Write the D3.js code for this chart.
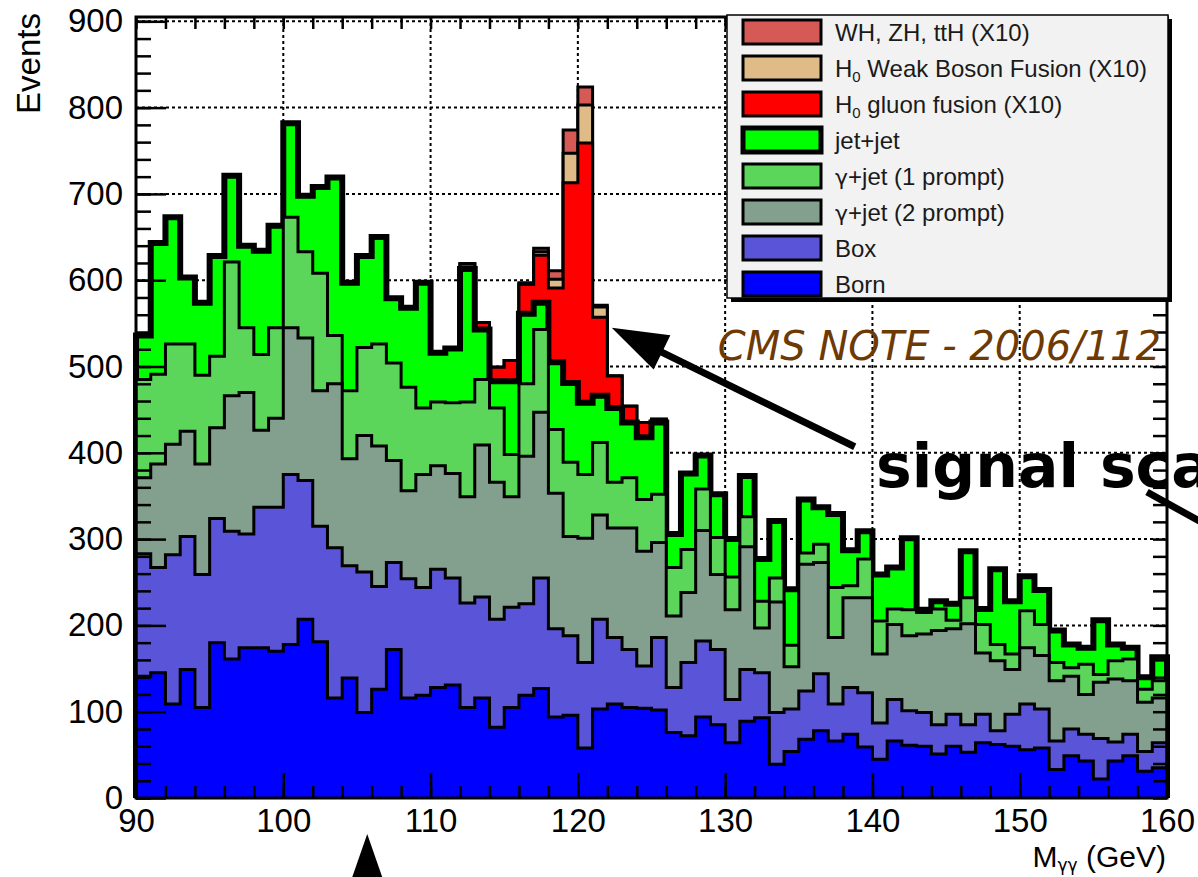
<!DOCTYPE html>
<html>
<head>
<meta charset="utf-8">
<script src="https://cdn.jsdelivr.net/npm/d3@7"></script>
<style>
  html, body { margin: 0; padding: 0; background: #fff; }
  svg { display: block; }
</style>
</head>
<body>
<svg id="chart" width="1198" height="877"></svg>
<script>
// M_gg histogram, 1 GeV bins from 90 to 160
const binLow = d3.range(90, 160, 1);

const born   = [141,145,109,149,105,180,161,174,174,170,178,207,181,116,139,99,126,172,
                116,119,128,131,105,116,82,105,119,127,94,96,58,103,109,105,104,102,
                76,72,94,85,64,89,93,39,54,68,78,66,74,59,45,66,61,
                60,51,60,53,64,62,60,56,58,33,49,43,22,43,49,31,35];
const box    = [142,122,173,154,154,144,148,132,163,167,197,161,134,174,130,163,119,101,
                138,125,137,124,121,117,125,116,106,128,102,92,99,104,77,67,49,84,
                52,85,88,87,50,60,52,60,49,56,66,43,54,63,42,48,40,
                39,34,37,32,33,16,37,53,45,33,31,31,47,22,25,23,29];
const gjet2  = [88,120,128,122,128,105,157,164,89,103,170,165,157,190,124,158,163,118,
                102,131,120,121,123,176,159,128,171,192,157,115,144,121,127,141,133,110,
                83,81,128,87,104,142,52,128,49,147,129,77,104,110,80,87,87,
                91,109,99,117,71,81,52,65,62,70,61,46,65,73,62,57,52];
const gjet1  = [114,104,116,101,103,83,155,75,88,105,128,100,136,56,79,102,118,113,
                120,77,74,82,110,76,86,49,84,96,74,86,74,84,53,58,60,56,
                56,50,48,43,38,35,31,28,25,13,21,58,14,45,38,18,30,
                25,25,10,30,33,19,18,43,36,21,10,35,9,21,25,15,20];
const jetjet = [51,152,147,77,84,116,100,95,120,118,109,65,100,183,125,106,124,75,
                92,145,57,63,154,58,31,85,81,31,78,92,83,54,86,64,72,83,
                39,88,39,50,44,47,49,66,65,62,43,85,41,32,54,48,83,
                3,9,19,54,18,87,61,40,40,37,27,19,63,19,13,14,27];
// signal, already scaled x10
const ggH    = [0,0,0,0,0,0,0,0,0,0,0,0,0,0,0,0,0,0,
                0,0,0,0,6,8,16,24,34,55,86,232,301,91,37,19,17,4,
                0,0,0,0,0,0,0,0,0,0,0,0,0,0,0,0,0,
                0,0,0,0,0,0,0,0,0,0,0,0,0,0,0,0,0];
const wbf    = [0,0,0,0,0,0,0,0,0,0,0,0,0,0,0,0,0,0,
                0,0,0,0,0,0,0,0,1,4,10,34,44,12,0,0,0,0,
                0,0,0,0,0,0,0,0,0,0,0,0,0,0,0,0,0,
                0,0,0,0,0,0,0,0,0,0,0,0,0,0,0,0,0];
const vh     = [0,0,0,0,0,0,0,0,0,0,0,0,0,0,0,0,0,0,
                0,0,0,0,0,0,0,0,1,4,10,27,21,2,0,0,0,0,
                0,0,0,0,0,0,0,0,0,0,0,0,0,0,0,0,0,
                0,0,0,0,0,0,0,0,0,0,0,0,0,0,0,0,0];

const xTicks = [90,100,110,120,130,140,150,160];
const yTicks = [0,100,200,300,400,500,600,700,800,900];

const layers = [
  {key: 'born',   label: ['Born'],                         color: '#0000ff', values: born},
  {key: 'box',    label: ['Box'],                          color: '#5a54d8', values: box},
  {key: 'gjet2',  label: ['γ', '+jet (2 prompt)'],         color: '#82a08d', values: gjet2},
  {key: 'gjet1',  label: ['γ', '+jet (1 prompt)'],         color: '#5bd65b', values: gjet1},
  {key: 'jetjet', label: ['jet+jet'],                      color: '#00ff00', values: jetjet},
  {key: 'ggH',    label: ['H', '0', ' gluon fusion (X10)'],      color: '#ff0000', values: ggH},
  {key: 'wbf',    label: ['H', '0', ' Weak Boson Fusion (X10)'], color: '#dfbb88', values: wbf},
  {key: 'vh',     label: ['WH, ZH, ttH (X10)'],            color: '#d55a56', values: vh}
];

const rows = binLow.map((m, i) => {
  const r = {m};
  layers.forEach(l => { r[l.key] = l.values[i]; });
  return r;
});
const series = d3.stack().keys(layers.map(l => l.key))(rows);

const svg = d3.select('#chart');
const pL = 136, pR = 1167, pT = 17, pB = 798;
const x = d3.scaleLinear().domain([90, 160]).range([pL, pR]);
const y = d3.scaleLinear().domain([0, 905]).range([pB, pT]);

// grid
const grid = svg.append('g').attr('stroke', '#000').attr('stroke-width', 2).attr('stroke-dasharray', '3,3');
xTicks.slice(1, -1).forEach(t => {
  grid.append('line').attr('x1', x(t)).attr('x2', x(t)).attr('y1', pT).attr('y2', pB);
});
yTicks.slice(1).forEach(t => {
  grid.append('line').attr('x1', pL).attr('x2', pR).attr('y1', y(t)).attr('y2', y(t));
});

// stacked histogram, drawn from the total down
const step = d3.line().x(d => x(d[0])).y(d => y(d[1])).curve(d3.curveStepAfter);
series.slice().reverse().forEach(s => {
  const layer = layers.find(l => l.key === s.key);
  const pts = [[90, 0]].concat(s.map((d, i) => [binLow[i], d[1]]));
  pts.push([160, s[s.length - 1][1]], [160, 0]);
  svg.append('path')
    .attr('d', step(pts))
    .attr('fill', layer.color)
    .attr('stroke', '#000')
    .attr('stroke-width', s.key === 'jetjet' ? 6 : 3)
    .attr('stroke-linejoin', 'miter');
});

// axes with inward ticks
const fontAxis = '"Liberation Sans", Arial, sans-serif';
const fontGreek = '"DejaVu Sans", sans-serif';
function styleAxis(g) {
  g.select('.domain').remove();
  g.selectAll('line').attr('stroke', '#000').attr('stroke-width', 2.5);
  g.selectAll('text').attr('font-family', fontAxis).attr('font-size', 33).attr('fill', '#000');
}
const yMinor = d3.range(0, 905, 20);
const xMinor = d3.range(90, 161, 2);
svg.append('g').attr('transform', `translate(${pL},0)`)
  .call(d3.axisLeft(y).tickValues(yMinor).tickSize(-15).tickFormat('')).call(styleAxis);
svg.append('g').attr('transform', `translate(${pL},0)`)
  .call(d3.axisLeft(y).tickValues(yTicks).tickSize(-30).tickPadding(13)).call(styleAxis);
svg.append('g').attr('transform', `translate(${pR},0)`)
  .call(d3.axisRight(y).tickValues(yMinor).tickSize(-14).tickFormat('')).call(styleAxis);
svg.append('g').attr('transform', `translate(0,${pB})`)
  .call(d3.axisBottom(x).tickValues(xMinor).tickSize(-12).tickFormat('')).call(styleAxis);
svg.append('g').attr('transform', `translate(0,${pB})`)
  .call(d3.axisBottom(x).tickValues(xTicks).tickSize(-25).tickPadding(11)).call(styleAxis);
svg.append('g').attr('transform', `translate(0,${pT})`)
  .call(d3.axisTop(x).tickValues(xMinor).tickSize(-12).tickFormat('')).call(styleAxis);

// frame
svg.append('rect').attr('x', pL).attr('y', pT).attr('width', pR - pL).attr('height', pB - pT)
  .attr('fill', 'none').attr('stroke', '#000').attr('stroke-width', 3);

// axis titles
svg.append('text').attr('transform', `translate(40,13) rotate(-90)`)
  .attr('text-anchor', 'end').attr('font-family', fontAxis).attr('font-size', 33).text('Events');
const xt = svg.append('text').attr('x', 1166).attr('y', 867).attr('text-anchor', 'end')
  .attr('font-family', fontAxis).attr('font-size', 30);
xt.append('tspan').text('M');
xt.append('tspan').attr('font-family', fontGreek).attr('font-size', 17).attr('dy', 4).text('γγ');
xt.append('tspan').attr('dy', -4).text(' (GeV)');

// legend
const lg = svg.append('g');
lg.append('rect').attr('x', 731).attr('y', 19).attr('width', 441).attr('height', 283).attr('fill', '#000');
lg.append('rect').attr('x', 727).attr('y', 15).attr('width', 441).attr('height', 283)
  .attr('fill', '#f2f2f2').attr('stroke', '#000').attr('stroke-width', 1.5);
layers.slice().reverse().forEach((l, i) => {
  const cy = 32 + i * 36;
  lg.append('rect').attr('x', 743).attr('y', cy - 12).attr('width', 78).attr('height', 24)
    .attr('fill', l.color).attr('stroke', '#000').attr('stroke-width', l.key === 'jetjet' ? 5 : 3);
  const t = lg.append('text').attr('x', 835).attr('y', cy + 9)
    .attr('font-family', fontAxis).attr('font-size', 24).attr('fill', '#1a1a1a');
  if (l.label.length === 3) {
    t.append('tspan').text(l.label[0]);
    t.append('tspan').attr('font-size', 15).attr('dy', 5).text(l.label[1]);
    t.append('tspan').attr('dy', -5).text(l.label[2]);
  } else if (l.label.length === 2) {
    t.append('tspan').attr('font-family', fontGreek).attr('font-size', 22).text(l.label[0]);
    t.append('tspan').text(l.label[1]);
  } else {
    t.text(l.label[0]);
  }
});

// annotations
svg.append('text').attr('x', 1161).attr('y', 360).attr('text-anchor', 'end')
  .attr('font-family', '"DejaVu Sans", sans-serif').attr('font-style', 'italic')
  .attr('font-size', 40).attr('fill', '#6e3a04').text('CMS NOTE - 2006/112');
svg.append('text').attr('x', 876).attr('y', 487)
  .attr('font-family', '"DejaVu Sans", sans-serif').attr('font-weight', 'bold')
  .attr('font-size', 60).attr('fill', '#000').text('signal scaled');

function arrow(x1, y1, x2, y2, head, half) {
  const dx = x2 - x1, dy = y2 - y1, len = Math.hypot(dx, dy);
  const ux = dx / len, uy = dy / len;
  const bx = x2 - ux * head, by = y2 - uy * head;
  svg.append('line').attr('x1', x1).attr('y1', y1).attr('x2', bx + ux * 5).attr('y2', by + uy * 5)
    .attr('stroke', '#000').attr('stroke-width', 7);
  svg.append('polygon').attr('fill', '#000')
    .attr('points', [[x2, y2], [bx - uy * half, by + ux * half], [bx + uy * half, by - ux * half]].join(' '));
}
arrow(x(138.8), y(407), x(122.3), y(545), 56, 19);
svg.append('line').attr('x1', 1147).attr('y1', 492).attr('x2', 1210).attr('y2', 527)
  .attr('stroke', '#000').attr('stroke-width', 7);
svg.append('polygon').attr('fill', '#000')
  .attr('points', [[x(105.7), 834], [x(105.7) - 16, 880], [x(105.7) + 16, 880]].join(' '));
</script>
</body>
</html>
